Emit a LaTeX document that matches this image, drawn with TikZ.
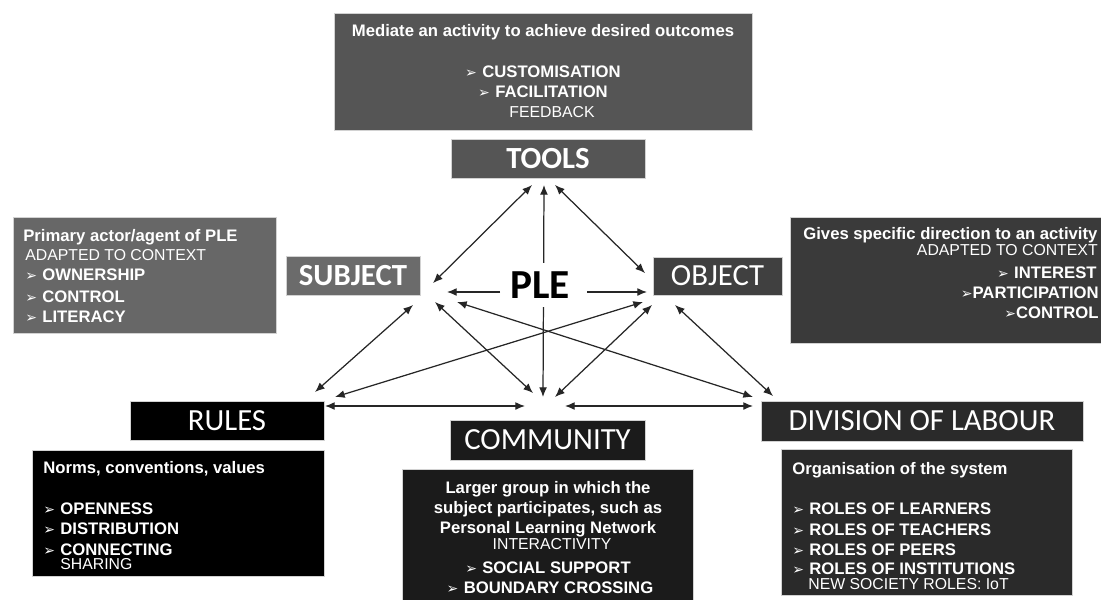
\documentclass[tikz,border=0pt]{standalone}
\usepackage{fontspec}
\setmainfont{Liberation Sans}
\newfontfamily\carlito{Carlito}
\newfontfamily\dejavu{DejaVu Sans}
\usepackage{tikz}
\usetikzlibrary{positioning,arrows.meta,fit}
\definecolor{toolgray}{HTML}{555555}
\definecolor{subjgray}{HTML}{676767}
\definecolor{subjtitle}{HTML}{6B6B6B}
\definecolor{objtitle}{HTML}{404040}
\definecolor{objgray}{HTML}{3A3A3A}
\definecolor{commgray}{HTML}{1B1B1B}
\definecolor{divgray}{HTML}{2A2A2A}
\definecolor{linkgray}{HTML}{262626}
\newcommand{\arrowmark}{{\dejavu\fontsize{8}{8}\selectfont ➢}}
\newcommand{\itm}{\arrowmark\hspace{3pt}}

\begin{document}
\begin{tikzpicture}[x=0.02cm,y=-0.02cm,
    box/.style={inner sep=0pt, outer sep=0pt, draw=gray!35, line width=0.3pt},
    title/.style={box, text=white, minimum height=0.78cm, font=\carlito\fontsize{17.5}{20}\selectfont},
    boldtitle/.style={title, font=\carlito\bfseries\fontsize{17.5}{20}\selectfont},
    hd/.style={text=white, inner sep=0pt, font=\bfseries\fontsize{9.5}{11}\selectfont},
    ln/.style={text=white, inner sep=0pt, font=\fontsize{9}{11}\selectfont},
    link/.style={draw=linkgray, line width=0.7pt, {Latex[length=5.5pt,width=4.5pt]}-{Latex[length=5.5pt,width=4.5pt]}},
    oneway/.style={draw=linkgray, line width=0.7pt, -{Latex[length=5.5pt,width=4.5pt]}}]
  \useasboundingbox[fill=white] (0,0) rectangle (1101,599);

  % Tools
  \node[box, fill=toolgray, fit={(334,13) (752,130)}] (tooldesc) {};
  \node[hd, anchor=base] (td1) at (543,36) {Mediate an activity to achieve desired outcomes};
  \node[hd, anchor=base] (td2) at (543,77) {\itm CUSTOMISATION};
  \node[hd, anchor=base] (td3) at (543,97) {\itm FACILITATION};
  \node[ln, anchor=base] (td4) at (552,117) {FEEDBACK};
  \node[boldtitle, fill=toolgray, minimum width=3.88cm] (tools) at (548,158.5) {TOOLS};

  % Subject
  \node[box, fill=subjgray, fit={(13,217) (276,333)}] (subjdesc) {};
  \node[hd, anchor=base west] (sd1) at (23,241) {Primary actor/agent of PLE};
  \node[ln, anchor=base west] (sd2) at (25,260) {ADAPTED TO CONTEXT};
  \node[hd, anchor=base west] (sd3) at (25,280) {\itm OWNERSHIP};
  \node[hd, anchor=base west] (sd4) at (25,302) {\itm CONTROL};
  \node[hd, anchor=base west] (sd5) at (25,322) {\itm LITERACY};
  \node[boldtitle, fill=subjtitle, minimum width=2.68cm] (subject) at (353,275.5) {SUBJECT};

  % Object
  \node[title, fill=objtitle, minimum width=2.58cm, minimum height=0.76cm] (object) at (717.5,276) {OBJECT};
  \node[box, fill=objgray, fit={(790,217) (1110,343)}] (objdesc) {};
  \node[hd, anchor=base west] (od1) at (803,239) {Gives specific direction to an activity};
  \node[ln, anchor=base east] (od2) at (1098,255) {ADAPTED TO CONTEXT};
  \node[hd, anchor=base east] (od3) at (1097,278) {\itm INTEREST};
  \node[hd, anchor=base east] (od4) at (1099,298) {\arrowmark PARTICIPATION};
  \node[hd, anchor=base east] (od5) at (1099,318) {\arrowmark CONTROL};

  % Rules
  \node[title, fill=black, minimum width=3.88cm] (rules) at (227,420.5) {RULES};
  \node[box, fill=black, fit={(32,450) (324,576)}] (rulesdesc) {};
  \node[hd, anchor=base west] (rd1) at (43,473) {Norms, conventions, values};
  \node[hd, anchor=base west] (rd2) at (43,514) {\itm OPENNESS};
  \node[hd, anchor=base west] (rd3) at (43,534) {\itm DISTRIBUTION};
  \node[hd, anchor=base west] (rd4) at (43,555) {\itm CONNECTING};
  \node[ln, anchor=base west] (rd5) at (60,569) {SHARING};

  % Community
  \node[title, fill=commgray, minimum width=3.9cm, minimum height=0.8cm] (community) at (547.5,440) {COMMUNITY};
  \node[box, fill=commgray, fit={(402,469) (693,605)}] (commdesc) {};
  \node[hd, anchor=base] (cd1) at (548,493) {Larger group in which the};
  \node[hd, anchor=base] (cd2) at (548,513) {subject participates, such as};
  \node[hd, anchor=base] (cd3) at (548,533) {Personal Learning Network};
  \node[ln, anchor=base] (cd4) at (552,549) {INTERACTIVITY};
  \node[hd, anchor=base] (cd5) at (548,573) {\itm SOCIAL SUPPORT};
  \node[hd, anchor=base] (cd6) at (550,593) {\itm BOUNDARY CROSSING};

  % Division of labour
  \node[title, fill=divgray, minimum width=6.44cm, minimum height=0.8cm] (division) at (922,421) {DIVISION OF LABOUR};
  \node[box, fill=divgray, fit={(781,449) (1072,595)}] (divdesc) {};
  \node[hd, anchor=base west] (dd1) at (792,474) {Organisation of the system};
  \node[hd, anchor=base west] (dd2) at (792,514) {\itm ROLES OF LEARNERS};
  \node[hd, anchor=base west] (dd3) at (792,535) {\itm ROLES OF TEACHERS};
  \node[hd, anchor=base west] (dd4) at (792,555) {\itm ROLES OF PEERS};
  \node[hd, anchor=base west] (dd5) at (792,574) {\itm ROLES OF INSTITUTIONS};
  \node[ln, anchor=base west] (dd6) at (808,589) {NEW SOCIETY ROLES: IoT};

  % Arrow ends round each label
  \coordinate (t1) at (532,185); \coordinate (t2) at (544,185); \coordinate (t3) at (555,185);
  \coordinate (s1) at (433,283); \coordinate (s2) at (447,292); \coordinate (s3) at (413,305);
  \coordinate (s4) at (435,302); \coordinate (s5) at (457,302);
  \coordinate (pl) at (500,292); \coordinate (pr) at (587,292);
  \coordinate (o1) at (645,273); \coordinate (o2) at (647,292); \coordinate (o3) at (643,302);
  \coordinate (o4) at (652,305); \coordinate (o5) at (675,305);
  \coordinate (r1) at (315,392); \coordinate (r2) at (335,397); \coordinate (r3) at (325,406);
  \coordinate (c1) at (533,393); \coordinate (c2) at (543,397); \coordinate (c3) at (555,397);
  \coordinate (c4) at (525,406); \coordinate (c5) at (565,406);
  \coordinate (d1) at (753,397); \coordinate (d2) at (773,396); \coordinate (d3) at (753,406);

  % Connectors
  \draw[link] (t1) -- (s1);
  \draw[link] (t3) -- (o1);
  \draw[link] (t2) -- (c2);
  \draw[link] (s3) -- (r1);
  \draw[link] (s4) -- (c1);
  \draw[link] (s5) -- (d1);
  \draw[link] (o3) -- (r2);
  \draw[link] (o4) -- (c3);
  \draw[link] (o5) -- (d2);
  \draw[link] (r3) -- (c4);
  \draw[link] (c5) -- (d3);

  % PLE in the middle
  \node[fill=white, inner xsep=4pt, inner ysep=5pt,
    font=\carlito\bfseries\fontsize{23.5}{26}\selectfont] (ple) at (540,285) {PLE};
  \draw[oneway] (pl) -- (s2);
  \draw[oneway] (pr) -- (o2);
\end{tikzpicture}
\end{document}
